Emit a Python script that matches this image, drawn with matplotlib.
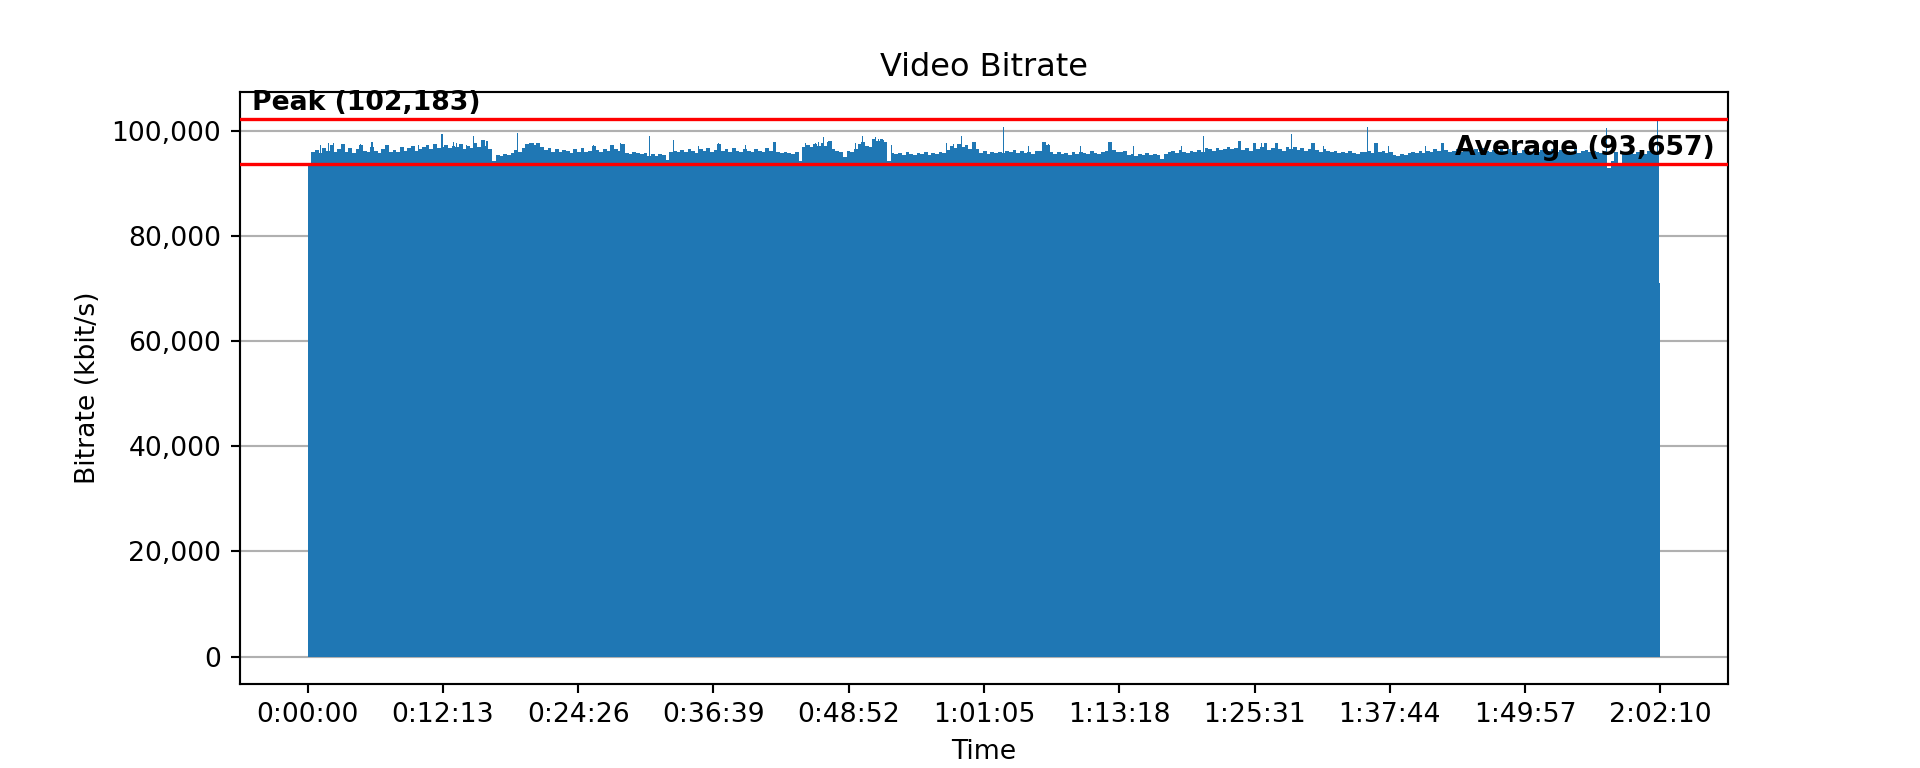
import numpy as np
import matplotlib
matplotlib.use('Agg')
import matplotlib.pyplot as plt
from matplotlib.ticker import FuncFormatter
from matplotlib.transforms import blended_transform_factory

# bitrate envelope in kbit/s, one value per 20 s
step_s = 20
duration_s = 7330
bitrate = [
    93200, 95900, 96300, 95800, 96600, 96100, 97300, 95900, 96500, 97400,   # 0-200
    96000, 96700, 95800, 96400, 97200, 96100, 95900, 96800, 96200, 95700,
    96500, 97300, 96000, 96300, 95900, 96900, 96200, 96600, 97000, 96100,
    96400, 96800, 97200, 96500, 97500, 96700, 96900, 97300, 96600, 97100,
    96800, 97400, 96500, 97000, 96600, 97600, 96900, 98200, 97100, 96400,   # 800-1000
    94300, 95400, 95200, 95600, 95300, 95800, 96300, 95900, 96700, 97500,
    97700, 97200, 97600, 96900, 96300, 96700, 96000, 96400, 95900, 96300,
    96100, 95800, 96400, 96000, 96600, 95900, 96200, 97100, 96300, 96000,
    96500, 96200, 97300, 96400, 96100, 97400, 95800, 95600, 96000, 95700,
    95500, 95800, 95200, 95500, 95100, 95600, 95300, 94400, 95900, 96200,   # 1800-2000
    95900, 96300, 96000, 96500, 96100, 95800, 96400, 96200, 96700, 96000,
    96300, 97500, 96100, 96400, 95900, 96600, 96200, 96000, 96500, 96100,
    95900, 96400, 96200, 96000, 96700, 96100, 97800, 95900, 95700, 96000,
    95800, 95600, 96000, 94300, 96900, 97200, 96800, 97400, 97000, 97600,
    97100, 98000, 96400, 96100, 95900, 94900, 96200, 96000, 96500, 97500,   # 2800-3000
    97800, 97100, 96800, 98300, 98000, 98400, 97900, 94300, 95800, 95500,
    95700, 95400, 95900, 95600, 95300, 95800, 95500, 95900, 95400, 95700,
    95600, 96000, 95800, 96300, 97000, 96600, 97400, 96800, 97200, 96500,
    97900, 96400, 95800, 96100, 95600, 95900, 95700, 96000, 95800, 96200,
    95900, 96300, 95800, 96100, 95700, 96000, 95600, 96200, 96100, 97900,   # 3800-4000
    97300, 95900, 95600, 96000, 95500, 95800, 95400, 95900, 95600, 96000,
    95700, 95500, 96200, 95800, 95600, 95900, 96100, 97800, 96300, 96000,
    95900, 96200, 95400, 95600, 95200, 95500, 95300, 95700, 95400, 95600,
    95300, 94500, 95600, 95900, 96200, 95800, 96300, 96000, 95700, 96100,
    95900, 96300, 96000, 96600, 96400, 96200, 96700, 96300, 96500, 96800,   # 4800-5000
    96400, 96700, 98000, 96300, 96600, 96200, 97600, 96500, 96800, 97600,
    96300, 96600, 97600, 96400, 96200, 96800, 96500, 96900, 96300, 96600,
    96200, 96500, 97700, 96300, 96000, 96400, 96100, 95900, 96200, 95800,
    96000, 95700, 96100, 95800, 95600, 96000, 95900, 96200, 95700, 97700,
    95900, 96100, 95700, 96000, 95400, 95200, 95500, 95300, 95800, 96000,   # 5800-6000
    95700, 96100, 95800, 96200, 96000, 96400, 96100, 97600, 96300, 95900,
    96200, 96500, 96000, 96300, 96700, 96100, 96400, 96000, 96600, 96200,
    96000, 96300, 95900, 96500, 96100, 96400, 96000, 96200, 95800, 96300,
    96100, 95900, 96400, 96000, 96300, 95800, 96200, 96500, 96000, 96300,
    95900, 96200, 96000, 96400, 95800, 96100, 96300, 95900, 96200, 96000,   # 6800-7000
    95800, 96100, 92800, 94200, 95900, 93400, 96000, 95700, 96200, 95600,
    95900, 96300, 95600, 96100, 95800, 96000, 71000,                        # 7200-7330
]

# short peaks above the envelope (time in s, kbit/s)
spike_t = [69, 114, 141, 195, 285, 349, 439, 601, 692, 728, 791, 809, 863, 900,
           972, 1138, 1225, 1252, 1550, 1694, 1851, 1983, 2119, 2227, 2371, 2534,
           2697, 2751, 2769, 2796, 2819, 2967, 3007, 3076, 3094, 3121, 3166, 3464,
           3500, 3545, 3617, 3771, 3907, 3988, 4015, 4187, 4340, 4475, 4737, 4855,
           5044, 5126, 5171, 5243, 5333, 5442, 5505, 5743, 5794, 5857, 6056, 6146,
           7040, 7316]
spike_kbps = [97300, 97600, 97700, 97300, 97500, 97900, 97000, 97300, 97500, 99400,
              97900, 97600, 97300, 99000, 98100, 99600, 97700, 97700, 97300, 97700,
              99000, 98200, 97100, 97600, 97300, 97900, 97700, 97700, 97900, 98700,
              97900, 97600, 99000, 98700, 98300, 98200, 97300, 97700, 97500, 98900,
              97900, 100600, 97000, 97900, 97500, 97100, 97800, 97100, 97000, 99000,
              98000, 97500, 97600, 97500, 99400, 97600, 97000, 100600, 97700, 97000,
              97000, 97700, 100500, 102183]

peak_kbps = 102183
avg_kbps = 93657

tick_labels = ['0:00:00', '0:12:13', '0:24:26', '0:36:39', '0:48:52', '1:01:05',
               '1:13:18', '1:25:31', '1:37:44', '1:49:57', '2:02:10']

starts = np.arange(len(bitrate)) * step_s
edges = np.append(starts, duration_s)
widths = np.diff(edges)

fig, ax = plt.subplots(figsize=(10, 4), dpi=192)
bars = ax.bar(starts, bitrate, width=widths, align='edge', color='#1f77b4',
              linewidth=0, antialiased=False)
bars2 = ax.bar(spike_t, spike_kbps, width=6, align='center', color='#1f77b4',
               linewidth=0, antialiased=False)
for b in list(bars) + list(bars2):
    b.sticky_edges.y.clear()

ax.axhline(peak_kbps, color='red', linewidth=1.25, zorder=3)
ax.axhline(avg_kbps, color='red', linewidth=1.25, zorder=3)

trans = blended_transform_factory(ax.transAxes, ax.transData)
ax.text(0.008, peak_kbps + 600, 'Peak ({:,})'.format(peak_kbps), transform=trans,
        ha='left', va='bottom', fontsize=10, fontweight='bold', zorder=4)
ax.text(0.991, avg_kbps + 550, 'Average ({:,})'.format(avg_kbps), transform=trans,
        ha='right', va='bottom', fontsize=10, fontweight='bold', zorder=4)

ax.set_xticks(np.linspace(0, duration_s, len(tick_labels)))
ax.set_xticklabels(tick_labels)
ax.yaxis.set_major_formatter(FuncFormatter(lambda v, p: '{:,.0f}'.format(v)))
ax.grid(axis='y')
ax.set_axisbelow(True)

ax.set_title('Video Bitrate')
ax.set_xlabel('Time')
ax.set_ylabel('Bitrate (kbit/s)')

fig.savefig('out.png')
